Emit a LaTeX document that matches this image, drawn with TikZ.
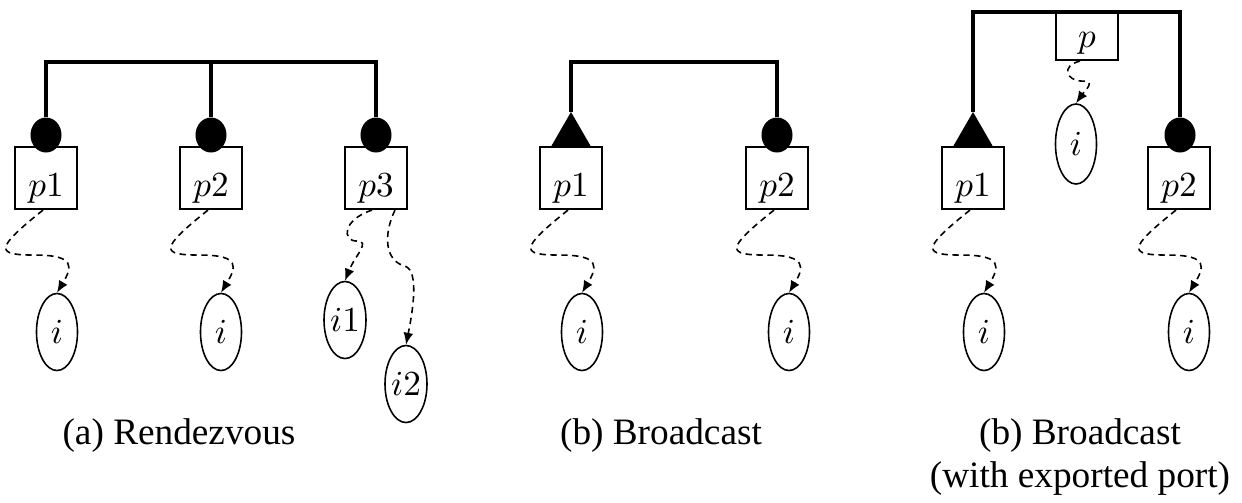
\documentclass[tikz,border=0pt]{standalone}
\usepackage{fontspec}
\setmainfont{Liberation Serif}
\usetikzlibrary{shapes.geometric,calc,arrows.meta}

\begin{document}
\begin{tikzpicture}[x=0.01cm, y=-0.01cm,
    port/.style={draw, line width=0.6pt, minimum width=0.62cm, minimum height=0.62cm,
        inner sep=1pt, text height=12.6pt, text depth=1.9pt},
    xport/.style={port, minimum height=0.48cm, text height=8.2pt},
    inst/.style={draw, ellipse, line width=0.45pt, minimum width=0.41cm,
        minimum height=0.77cm, inner sep=0pt},
    sync/.style={ellipse, fill=black, minimum width=0.31cm, minimum height=0.35cm, inner sep=0pt},
    trig/.style={regular polygon, regular polygon sides=3, fill=black, minimum size=0.47cm,
        inner sep=0pt, outer sep=0pt},
    conn/.style={line width=1.15pt},
    bind/.style={dash pattern=on 1.8pt off 1.3pt, line width=0.45pt, -{Latex[length=3.4pt,width=2.8pt]}},
    caption/.style={font=\fontsize{10.6}{12}\selectfont, align=center, inner sep=0pt}]
    \useasboundingbox (0,0) rectangle (1242,502);

    % (a) Rendezvous
    \node[port] (a1) at (46,178) {$p1$};
    \node[port] (a2) at (211,178) {$p2$};
    \node[port] (a3) at (376,178) {$p3$};
    \node[sync] (a1s) at (46,135) {};
    \node[sync] (a2s) at (211,135) {};
    \node[sync] (a3s) at (376,135) {};
    \node[inst] (a1i) at (57,332) {$i$};
    \node[inst] (a2i) at (221,332) {$i$};
    \node[inst] (a3i1) at (345,320) {$i1$};
    \node[inst] (a3i2) at (406,384) {$i2$};
    \coordinate (abus) at (0,62);

    \draw[conn] (a1s.north) |- (a3s.north |- abus) -- (a3s.north);
    \draw[conn] (a2s.north) -- (a2s.north |- abus);

    \draw[bind] ($(a1.south)+(-3,0)$) .. controls +(-50,40) and +(-40,0) .. ($(a1.south)+(-10,45)$)
        .. controls +(40,0) and +(15,-25) .. (a1i.north);
    \draw[bind] ($(a2.south)+(-3,0)$) .. controls +(-50,40) and +(-40,0) .. ($(a2.south)+(-10,45)$)
        .. controls +(40,0) and +(15,-25) .. (a2i.north);
    \draw[bind] ($(a3.south)+(-4,0)$) .. controls +(-30,10) and +(-15,0) .. ($(a3.south)+(-19,31)$)
        .. controls +(14,0) and +(10,-25) .. (a3i1.north);
    \draw[bind] ($(a3.south)+(19,0)$) .. controls +(-12,25) and +(-20,-5) .. ($(a3.south)+(29,56)$)
        .. controls +(15,5) and +(6,-30) .. (a3i2.north);

    % (b) Broadcast
    \node[port] (b1) at (571,178) {$p1$};
    \node[port] (b2) at (777,178) {$p2$};
    \node[trig] (b1s) at (571,135.5) {};
    \node[sync] (b2s) at (777,135) {};
    \node[inst] (b1i) at (582,332) {$i$};
    \node[inst] (b2i) at (789,332) {$i$};
    \coordinate (bbus) at (0,62);

    \draw[conn] (b1s.north) |- (b2s.north |- bbus) -- (b2s.north);

    \draw[bind] ($(b1.south)+(-3,0)$) .. controls +(-50,40) and +(-40,0) .. ($(b1.south)+(-10,45)$)
        .. controls +(40,0) and +(15,-25) .. (b1i.north);
    \draw[bind] ($(b2.south)+(-3,0)$) .. controls +(-50,40) and +(-40,0) .. ($(b2.south)+(-10,45)$)
        .. controls +(40,0) and +(15,-25) .. (b2i.north);

    % (b) Broadcast with exported port
    \node[port] (c1) at (973,178) {$p1$};
    \node[port] (c2) at (1179,178) {$p2$};
    \node[xport] (c0) at (1087,36) {$p$};
    \node[trig] (c1s) at (973,135.5) {};
    \node[sync] (c2s) at (1180,135) {};
    \node[inst] (c1i) at (984,332) {$i$};
    \node[inst] (c2i) at (1189,332) {$i$};
    \node[inst, minimum height=0.8cm] (c0i) at (1076,144) {$i$};
    \coordinate (cbus) at (0,12);

    \draw[conn] (c1s.north) |- (c2s.north |- cbus) -- (c2s.north);

    \draw[bind] ($(c1.south)+(-3,0)$) .. controls +(-50,40) and +(-40,0) .. ($(c1.south)+(-10,45)$)
        .. controls +(40,0) and +(15,-25) .. (c1i.north);
    \draw[bind] ($(c2.south)+(-3,0)$) .. controls +(-50,40) and +(-40,0) .. ($(c2.south)+(-10,45)$)
        .. controls +(40,0) and +(15,-25) .. (c2i.north);
    \draw[bind] ($(c0.south)+(-7,0)$) .. controls +(-20,5) and +(-15,0) .. ($(c0.south)+(-5,20)$)
        .. controls +(14,0) and +(10,-14) .. (c0i.north);

    % captions
    \node[caption] (acap) at (179,436) {(a) Rendezvous};
    \node[caption] (bcap) at (661,436) {(b) Broadcast};
    \node[caption] (ccap) at (1080,457) {(b) Broadcast\\(with exported port)};
\end{tikzpicture}
\end{document}
